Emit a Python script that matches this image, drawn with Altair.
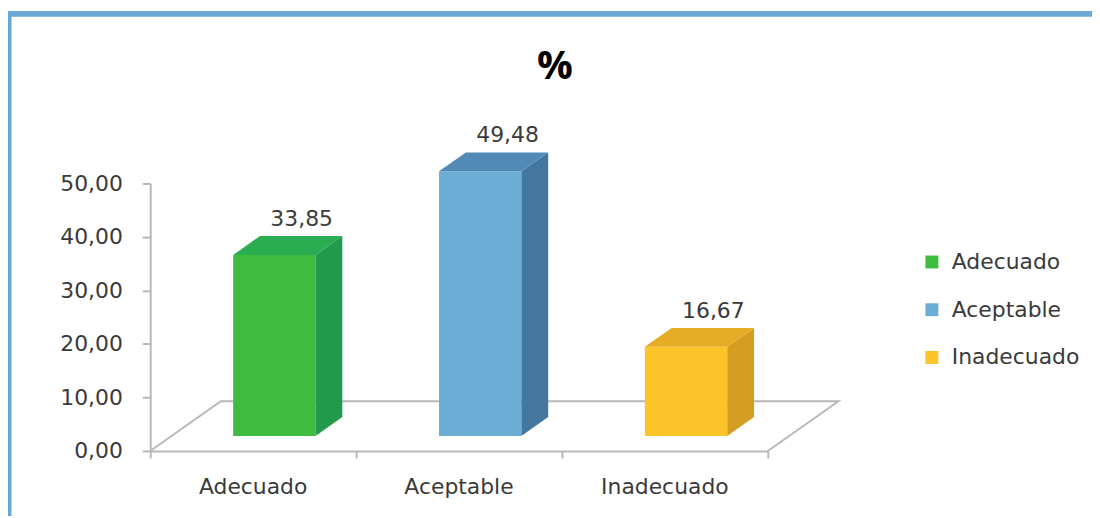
import altair as alt
import pandas as pd

# ---- data ----
categories = ["Adecuado", "Aceptable", "Inadecuado"]
values = [33.85, 49.48, 16.67]
y_ticks = [0, 10, 20, 30, 40, 50]
title_text = "%"

# ---- styles ----
front_colors = ["#3fbc3f", "#6cadd6", "#fdc42a"]
side_colors = ["#229a4c", "#44779f", "#d69d23"]
top_colors = ["#29ad50", "#5189b7", "#e7ac26"]
GRAY = "#b8b8b8"
TEXT = "#3a3a3a"
FONT = "DejaVu Sans"
FRAME = "#6aa7d5"

# 3-D geometry (category units on x, value units on y)
FLOOR_DX = 0.343
FLOOR_DY = 9.3
BAR_START = 0.30
BAR_DEPTH = 0.38
BAR_HALF = 0.20

ddx, ddy = FLOOR_DX * BAR_DEPTH, FLOOR_DY * BAR_DEPTH
sx, sy = FLOOR_DX * BAR_START, FLOOR_DY * BAR_START
n = len(categories)

front_rows, side_rows, top_rows, label_rows, cat_rows = [], [], [], [], []
for i, (c, v) in enumerate(zip(categories, values)):
    xc = i + 0.5 + sx
    xl, xr = xc - BAR_HALF, xc + BAR_HALF
    yb, yt = sy, sy + v
    front_rows.append(dict(cat=c, xl=xl, xr=xr, yb=yb, yt=yt))
    side_rows += [dict(cat=c, fill=side_colors[i], x=xr, lo=yb, hi=yt),
                  dict(cat=c, fill=side_colors[i], x=xr + ddx, lo=yb + ddy, hi=yt + ddy)]
    top_rows += [dict(cat=c, fill=top_colors[i], y=yt, xa=xl, xb=xr),
                 dict(cat=c, fill=top_colors[i], y=yt + ddy, xa=xl + ddx, xb=xr + ddx)]
    label_rows.append(dict(x=xc + ddx / 2, y=yt + ddy, text=f"{v:.2f}".replace(".", ",")))
    cat_rows.append(dict(x=i + 0.5, y=0, text=c))

floor_df = pd.DataFrame(dict(
    x=[0, FLOOR_DX, n + FLOOR_DX, n],
    y=[0, FLOOR_DY, FLOOR_DY, 0],
    o=[0, 1, 2, 3],
))

xs = alt.Scale(domain=[0, n], nice=False, zero=False)
ys = alt.Scale(domain=[0, 50], nice=False)

x_axis = alt.Axis(values=list(range(n + 1)), labels=False, tickSize=7,
                  tickColor=GRAY, tickWidth=2, domainColor=GRAY,
                  domainWidth=2, grid=False, title=None)
y_axis = alt.Axis(values=y_ticks, tickSize=8, tickColor=GRAY, tickWidth=2,
                  domainColor=GRAY, domainWidth=2, grid=False,
                  labelFont=FONT, labelFontSize=22, labelColor=TEXT,
                  labelPadding=20, title=None,
                  labelExpr="replace(format(datum.value, '.2f'), '.', ',')")

floor = alt.Chart(floor_df).mark_line(color=GRAY, strokeWidth=2).encode(
    x=alt.X("x:Q", scale=xs, axis=x_axis),
    y=alt.Y("y:Q", scale=ys, axis=y_axis),
    order="o:Q",
)

front = alt.Chart(pd.DataFrame(front_rows)).mark_rect().encode(
    x=alt.X("xl:Q", scale=xs, axis=x_axis), x2="xr:Q",
    y=alt.Y("yb:Q", scale=ys, axis=y_axis), y2="yt:Q",
    color=alt.Color("cat:N",
                    scale=alt.Scale(domain=categories, range=front_colors),
                    legend=alt.Legend(orient="none", legendX=775, legendY=68,
                                      title=None, symbolType="square",
                                      symbolSize=169, symbolStrokeWidth=0,
                                      labelFont=FONT, labelFontSize=22,
                                      labelColor=TEXT, labelOffset=9,
                                      rowPadding=26, padding=0)),
)

side = alt.Chart(pd.DataFrame(side_rows)).mark_area().encode(
    x=alt.X("x:Q", scale=xs, axis=x_axis),
    y=alt.Y("lo:Q", scale=ys, axis=y_axis, stack=None), y2="hi:Q",
    fill=alt.Fill("fill:N", scale=None),
    detail="cat:N",
)

top = alt.Chart(pd.DataFrame(top_rows)).mark_area(orient="horizontal").encode(
    y=alt.Y("y:Q", scale=ys, axis=y_axis),
    x=alt.X("xa:Q", scale=xs, axis=x_axis, stack=None), x2="xb:Q",
    fill=alt.Fill("fill:N", scale=None),
    detail="cat:N",
)

labels = alt.Chart(pd.DataFrame(label_rows)).mark_text(
    font=FONT, fontSize=22, color=TEXT, baseline="bottom", dy=-5, dx=14
).encode(x=alt.X("x:Q", scale=xs, axis=x_axis),
         y=alt.Y("y:Q", scale=ys, axis=y_axis), text="text:N")

cat_labels = alt.Chart(pd.DataFrame(cat_rows)).mark_text(
    font=FONT, fontSize=22, color=TEXT, baseline="middle", dy=36
).encode(x=alt.X("x:Q", scale=xs, axis=x_axis),
         y=alt.Y("y:Q", scale=ys, axis=y_axis), text="text:N")

title = alt.Chart(pd.DataFrame({"t": [title_text]})).mark_text(
    font="Open Sans", fontSize=40, fontWeight="bold", color="black",
    baseline="alphabetic", align="center"
).encode(x=alt.value(407), y=alt.value(-105), text="t:N")

frame_top = alt.Chart().mark_rule(color=FRAME, strokeWidth=6).encode(
    x=alt.value(-146), x2=alt.value(1200), y=alt.value(-170.5))
frame_left = alt.Chart().mark_rule(color=FRAME, strokeWidth=6).encode(
    x=alt.value(-142.5), y=alt.value(-173.5), y2=alt.value(600))

chart = alt.layer(
    floor, front, side, top, labels, cat_labels, title, frame_top, frame_left
).properties(
    width=621, height=269,
    padding={"left": 143, "top": 175, "right": 326, "bottom": 64},
    autosize=alt.AutoSizeParams(type="none"),
    background="white",
).configure_view(stroke=None)

chart.save("out.html", embed_options={"renderer": "svg", "actions": False})
